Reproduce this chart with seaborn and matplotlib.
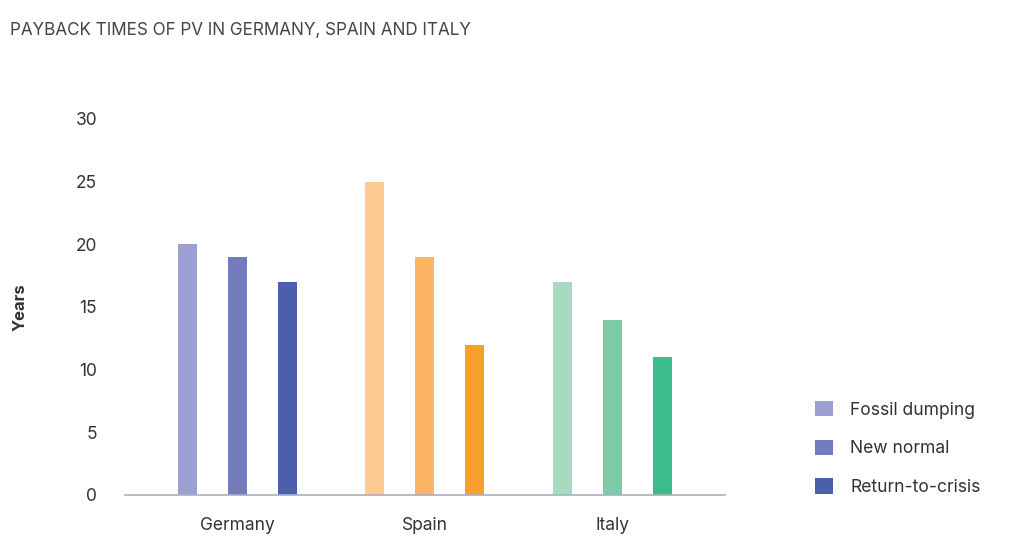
import pandas as pd
import seaborn as sns
import matplotlib.pyplot as plt
from matplotlib.patches import Patch

countries = ["Germany", "Spain", "Italy"]
scenarios = ["Fossil dumping", "New normal", "Return-to-crisis"]
germany = [20, 19, 17]
spain = [25, 19, 12]
italy = [17, 14, 11]

# one shade per scenario, one hue family per country
colors = {
    "Germany": ["#9b9fd2", "#737bbc", "#4b5faa"],
    "Spain": ["#fecb92", "#fcb562", "#f79f2c"],
    "Italy": ["#a8d9c1", "#7dcaa6", "#3abc8c"],
}

rows = []
for c, vals in zip(countries, [germany, spain, italy]):
    for s, v in zip(scenarios, vals):
        rows.append({"country": c, "scenario": s, "years": v})
df = pd.DataFrame(rows)

sns.set_theme(style="white")
plt.rcParams["font.family"] = ["Inter", "DejaVu Sans"]
text_col = "#333333"

fig = plt.figure(figsize=(10.24, 5.43), dpi=100)
ax = fig.add_axes([0.122, 0.0884, 0.586, 0.6925])

sns.barplot(data=df, x="country", y="years", hue="scenario", order=countries,
            hue_order=scenarios, palette=colors["Germany"], gap=0.62,
            legend=False, ax=ax, saturation=1)

# recolour bars per country
for i, s in enumerate(scenarios):
    for j, bar in enumerate(ax.containers[i]):
        bar.set_facecolor(colors[countries[j]][i])
        bar.set_edgecolor("none")

ax.set_ylim(0, 30)
ax.set_xlim(-0.6, 2.6)
ax.set_yticks(range(0, 31, 5))
ax.tick_params(axis="both", length=0, labelsize=12.5, colors=text_col)
ax.tick_params(axis="y", pad=20)
ax.tick_params(axis="x", pad=16)
for sp in ["left", "top", "right"]:
    ax.spines[sp].set_visible(False)
ax.spines["bottom"].set_color("#a8b0c0")
ax.spines["bottom"].set_linewidth(1.2)
ax.set_xlabel("")
ax.set_ylabel("Years", fontsize=12, fontweight="bold", color=text_col)
ax.yaxis.set_label_coords(-0.163, 0.5)

fig.text(0.01, 0.944, "PAYBACK TIMES OF PV IN GERMANY, SPAIN AND ITALY",
         fontsize=12.3, color="#444444", va="center")

handles = [Patch(facecolor=col, edgecolor="none") for col in colors["Germany"]]
fig.legend(handles, scenarios, loc="center left", bbox_to_anchor=(0.781, 0.174),
           frameon=False, fontsize=12.6, handlelength=1.0, handleheight=1.0,
           labelspacing=1.2, handletextpad=1.0, labelcolor=text_col)

fig.savefig("out.png", dpi=100)
